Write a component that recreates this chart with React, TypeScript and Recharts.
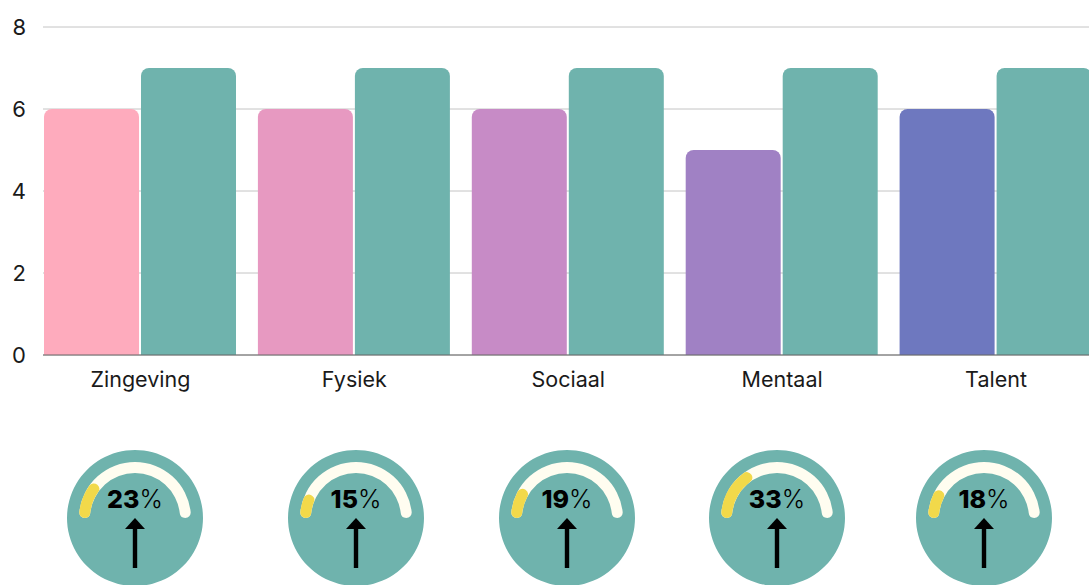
import React from 'react';
import { BarChart, Bar, XAxis, YAxis, CartesianGrid, Cell, PieChart, Pie } from 'recharts';

const categories = ['Zingeving', 'Fysiek', 'Sociaal', 'Mentaal', 'Talent'];
const before = [6, 6, 6, 5, 6];
const after = [7, 7, 7, 7, 7];
const growth = [23, 15, 19, 33, 18];
const yTicks = [0, 2, 4, 6, 8];

const beforeColors = ['#FEABBD', '#E799C1', '#C78BC6', '#A081C4', '#6E78BF'];
const TEAL = '#6FB3AD';
const CREAM = '#FFFDF0';
const YELLOW = '#F2D94A';
const FONT = 'Inter, "Noto Sans", sans-serif';

const gaugeCenters = [135, 355.5, 567, 777, 984];
const GAUGE_CY = 518;

const data = categories.map((c, i) => ({ name: c, before: before[i], after: after[i] }));

function Gauge({ pct, cx }: { pct: number; cx: number }) {
  const S = 140;
  const c = S / 2;
  const arcData = [
    { name: 'g', value: pct },
    { name: 'rest', value: 100 - pct },
  ];
  return (
    <div style={{ position: 'absolute', left: cx - c, top: GAUGE_CY - c, width: S, height: S }}>
      <PieChart width={S} height={S} margin={{ top: 0, right: 0, bottom: 0, left: 0 }}>
        <Pie data={[{ value: 1 }]} dataKey="value" cx={c} cy={c} innerRadius={0} outerRadius={68} fill={TEAL} stroke="none" isAnimationActive={false} />
        <Pie data={[{ value: 100 }]} dataKey="value" cx={c} cy={c} startAngle={180} endAngle={0} innerRadius={45} outerRadius={56} cornerRadius={5.5} fill={CREAM} stroke="none" isAnimationActive={false} />
        <Pie data={arcData} dataKey="value" cx={c} cy={c} startAngle={180} endAngle={0} innerRadius={45} outerRadius={56} cornerRadius={5.5} stroke="none" isAnimationActive={false}>
          <Cell fill={YELLOW} />
          <Cell fill="transparent" />
        </Pie>
      </PieChart>
      <svg width={S} height={S} style={{ position: 'absolute', left: 0, top: 0 }}>
        <text x={c} y={c - 10} textAnchor="middle" fontFamily={FONT} fontSize={25} fill="#000">
          <tspan fontWeight={800}>{pct}</tspan>
          <tspan fontWeight={300}>%</tspan>
        </text>
        <polygon points={`${c},${c} ${c - 10},${c + 11} ${c + 10},${c + 11}`} fill="#000" />
        <rect x={c - 2.2} y={c + 10} width={4.4} height={40} fill="#000" />
      </svg>
    </div>
  );
}

export default function App() {
  return (
    <div style={{ position: 'absolute', left: 0, top: 0, width: 1089, height: 585, overflow: 'hidden', background: '#fff', fontFamily: FONT }}>
      <BarChart
        width={1103}
        height={400}
        data={data}
        margin={{ top: 27, right: 0, bottom: 0, left: 0 }}
        barGap={2}
        barCategoryGap={10.5}
      >
        <CartesianGrid vertical={false} stroke="#C4C4C4" />
        <XAxis
          dataKey="name"
          padding={{ left: -9.5, right: 0 }}
          tickLine={false}
          axisLine={{ stroke: '#666' }}
          height={45}
          tick={{ fill: '#1a1a1a', fontSize: 21.5, fontFamily: FONT }}
          tickMargin={11}
        />
        <YAxis
          domain={[0, 8]}
          ticks={yTicks}
          width={43}
          tickLine={false}
          axisLine={false}
          tick={{ fill: '#1a1a1a', fontSize: 22, fontFamily: FONT }}
          tickMargin={11}
        />
        <Bar dataKey="before" radius={[8, 8, 0, 0]} isAnimationActive={false}>
          {data.map((d, i) => (
            <Cell key={d.name} fill={beforeColors[i]} />
          ))}
        </Bar>
        <Bar dataKey="after" fill={TEAL} radius={[8, 8, 0, 0]} isAnimationActive={false} />
      </BarChart>
      {growth.map((g, i) => (
        <Gauge key={categories[i]} pct={g} cx={gaugeCenters[i]} />
      ))}
    </div>
  );
}
